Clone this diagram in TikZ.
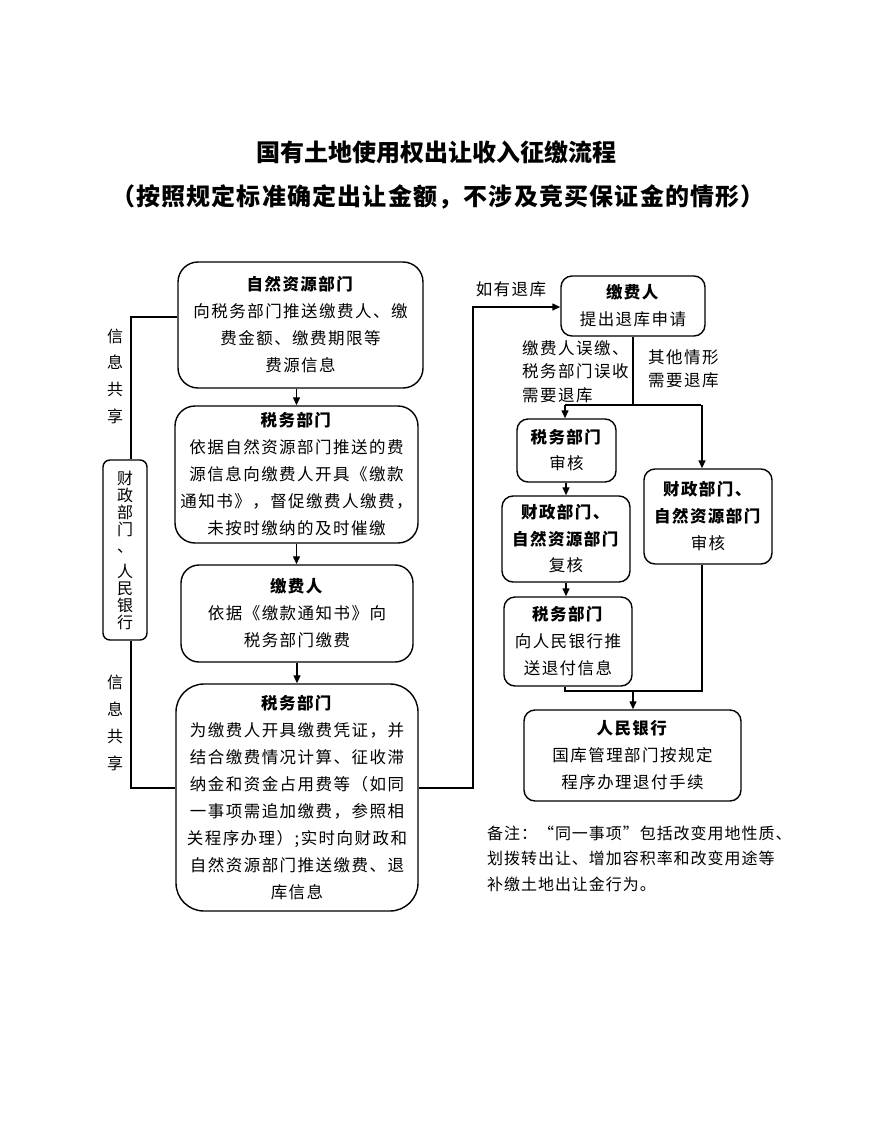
\documentclass[tikz,border=0pt]{standalone}
\usepackage{fontspec}
\setmainfont{Noto Sans CJK SC}
\newfontfamily\cjk[LetterSpace=9]{Noto Sans CJK SC}
\newfontfamily\cjknote[LetterSpace=6]{Noto Sans CJK SC}
\newfontfamily\cjkplain{Noto Sans CJK SC}
\newfontfamily\cjktitle[LetterSpace=5]{Noto Sans CJK SC}
\usetikzlibrary{arrows.meta}
\tikzset{
  box/.style={draw, line width=1.4pt, rounded corners=14pt, align=center, inner sep=0pt,
    font=\cjk\fontsize{16.5}{27}\selectfont},
  sbox/.style={box, rounded corners=11pt},
  lbl/.style={inner sep=0pt, font=\cjk\fontsize{16.5}{23.5}\selectfont},
  conn/.style={line width=1.3pt},
  arr/.style={line width=1.3pt, -{Triangle[length=8pt,width=7pt]}},
  thickline/.style={line width=2.6pt},
  titlefont/.style={inner sep=0pt, font=\cjkplain\bfseries\fontsize{24}{30}\selectfont}
}
\begin{document}
\begin{tikzpicture}[x=1pt,y=-1pt]
\useasboundingbox (0,0) rectangle (876,1136);
% titles
\node[titlefont] (t1) at (436,152) {国有土地使用权出让收入征缴流程};
\node[titlefont, font=\cjktitle\bfseries\fontsize{24}{30}\selectfont] (t2) at (438,197) {（按照规定标准确定出让金额，不涉及竞买保证金的情形）};
% left column
\node[box, rounded corners=20pt, minimum width=245pt, minimum height=126pt] (A) at (300.5,325)
  {\textbf{自然资源部门}\\向税务部门推送缴费人、缴\\费金额、缴费期限等\\费源信息};
\node[box, rounded corners=20pt, minimum width=243pt, minimum height=137pt] (B) at (296.5,474.5)
  {\textbf{税务部门}\\依据自然资源部门推送的费\\源信息向缴费人开具《缴款\\通知书》，督促缴费人缴费，\\未按时缴纳的及时催缴};
\node[box, rounded corners=18pt, minimum width=232pt, minimum height=97pt] (C) at (297,613.5)
  {\textbf{缴费人}\\依据《缴款通知书》向\\税务部门缴费};
\node[box, rounded corners=28pt, minimum width=242pt, minimum height=227pt] (D) at (297,797.5)
  {\textbf{税务部门}\\为缴费人开具缴费凭证，并\\结合缴费情况计算、征收滞\\纳金和资金占用费等（如同\\一事项需追加缴费，参照相\\关程序办理）;实时向财政和\\自然资源部门推送缴费、退\\库信息};
\draw[arr] (A.south -| B.north) -- (B.north);
\draw[arr] (B.south) -- (B.south |- C.north);
\draw[arr] (C.south) -- (C.south |- D.north);
% side box
\node[box, rounded corners=7pt, minimum width=44pt, minimum height=180pt,
  font=\cjkplain\fontsize{16}{17}\selectfont] (V) at (125,550)
  {财\\政\\部\\门\\、\\[8pt]人\\民\\银\\行};
\draw[conn] ([xshift=6pt]V.north) |- ([yshift=8pt]A.west);
\draw[conn] ([xshift=6pt]V.south) |- ([yshift=9.5pt]D.west);
\node[inner sep=0pt, align=center, font=\cjkplain\fontsize{16}{26.7}\selectfont] (s1) at (115,376) {信\\息\\共\\享};
\node[inner sep=0pt, align=center, font=\cjkplain\fontsize{16}{27}\selectfont] (s2) at (115,723) {信\\息\\共\\享};
% right column
\node[sbox, minimum width=144pt, minimum height=60pt] (E) at (633,306)
  {\textbf{缴费人}\\提出退库申请};
\coordinate (k) at (473,307);
\draw[arr] ([yshift=9.5pt]D.east) -| (k) -- (k -| E.west);
\node[lbl] (l1) at (511,289) {如有退库};
\node[sbox, minimum width=99pt, minimum height=63pt, font=\cjk\fontsize{16.5}{26}\selectfont] (F) at (566.5,450.5)
  {\textbf{税务部门}\\审核};
\node[sbox, minimum width=128pt, minimum height=86pt, font=\cjk\fontsize{16.5}{26.5}\selectfont] (G) at (566,539)
  {\textbf{财政部门、}\\\textbf{自然资源部门}\\复核};
\node[sbox, minimum width=128pt, minimum height=89pt] (I) at (568,641.5)
  {\textbf{税务部门}\\向人民银行推\\送退付信息};
\node[sbox, minimum width=128pt, minimum height=95pt] (H) at (708,516.5)
  {\textbf{财政部门、}\\\textbf{自然资源部门}\\审核};
\node[sbox, minimum width=217pt, minimum height=91pt] (J) at (632.5,755.5)
  {\textbf{人民银行}\\国库管理部门按规定\\程序办理退付手续};
% branch
\coordinate (br) at (633,405);
\draw[thickline] (E.south) -- (br);
\draw[thickline] ([xshift=-1.3pt]F.north |- br) -- ([xshift=-6.65pt]H.north |- br);
\draw[arr] ([xshift=-1.5pt]F.north |- br) -- ([xshift=-1.5pt]F.north);
\draw[arr, line width=1.6pt] ([xshift=-6pt]H.north |- br) -- ([xshift=-6pt]H.north);
\node[lbl, anchor=west, align=left] (l2) at (522,371.5) {缴费人误缴、\\税务部门误收\\需要退库};
\node[lbl, anchor=west, align=left, font=\cjk\fontsize{16.5}{23}\selectfont] (l3) at (648,368.5) {其他情形\\需要退库};
\draw[arr] (F.south -| G.north) -- (G.north);
\draw[arr] (G.south) -- (G.south |- I.north);
\coordinate (m) at (633,691);
\draw[conn] ([xshift=-3pt]I.south) |- ([xshift=-6pt]H.south |- m) -- ([xshift=-6pt]H.south);
\draw[arr] (m) -- (m |- J.north);
% note
\node[inner sep=0pt, anchor=west, align=left, font=\cjknote\fontsize{16}{25.5}\selectfont] (note) at (487,858.5)
  {备注：“同一事项”包括改变用地性质、\\划拨转出让、增加容积率和改变用途等\\补缴土地出让金行为。};
\end{tikzpicture}
\end{document}
